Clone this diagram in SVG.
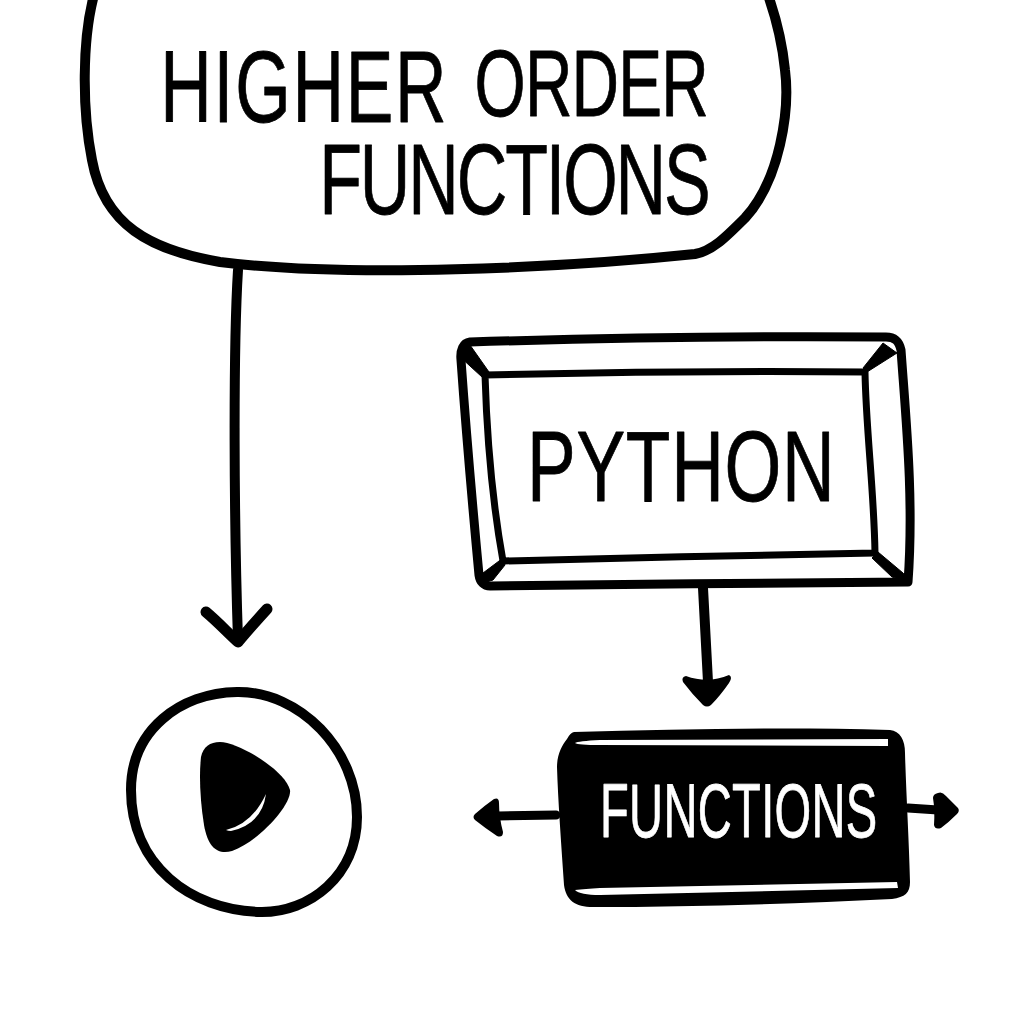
<svg xmlns="http://www.w3.org/2000/svg" width="1024" height="1024" viewBox="0 0 1024 1024">
<style>
.l{fill:none;stroke:#000;stroke-linecap:round;stroke-linejoin:round}
.t{font-family:"Liberation Sans",Arial,sans-serif;stroke-linejoin:round;stroke-linecap:round}
.k{fill:#000;stroke:#000;stroke-width:.8}
.w{fill:#fff;stroke:#fff;stroke-width:.8}
</style>
<rect width="1024" height="1024" fill="#fff"/>
<g id="connectors">
<path class="l" stroke-width="10" d="M238 270C233 350 234 520 238 640"/>
<path class="l" stroke-width="11" d="M206 612C218 622 228 633 238 642C247 631 257 620 267 609"/>
<path class="l" stroke-width="10" d="M703 588L708 682"/>
<path d="M686 676Q708 684 729 675Q733 677 729 683Q720 696 711 705Q707 708 703 705Q692 694 683 682Q681 677 686 676Z" fill="#000"/>
<path class="l" stroke-width="9" d="M556 815L498 816"/>
<path d="M494 799Q499 797 499 803Q499 817 503 832Q503 838 497 836Q485 828 475 820Q472 817 475 814Q484 806 494 799Z" fill="#000"/>
<path class="l" stroke-width="9" d="M908 808L938 810"/>
<path d="M938 793Q942 791 946 796Q953 803 958 808Q960 811 957 814Q949 822 941 828Q935 830 934 825Q935 810 933 798Q933 794 938 793Z" fill="#000"/>
</g>
<g id="node-higher-order">
<path class="l" stroke-width="10" d="M94 -5C82 40 82 110 92 160C104 225 150 250 220 262C350 278 560 268 695 254C712 251 725 238 745 218C780 180 790 110 785 70C782 40 775 15 768 -5"/>
<text class="t k" transform="scale(.7 1)"><tspan font-size="102" x="229" y="122" letter-spacing="2.5">HIGHER</tspan><tspan font-size="94" x="678" y="116" letter-spacing="-1.2">ORDER</tspan><tspan font-size="100" x="456" y="214" letter-spacing="-3">FUNCTIONS</tspan></text>
</g>
<g id="node-python">
<path class="l" stroke-width="9" d="M470 342C600 338 760 336 886 337C895 337 899 341 901 350C906 420 914 500 908 582C780 583 620 584 490 586C484 586 480 582 479 575C472 500 466 430 461 360C460 350 463 343 470 342Z"/>
<path class="l" stroke-width="7" d="M485 375C610 372 740 371 865 372C866 430 874 490 875 553C760 555 620 558 503 561C492 500 487 440 485 375Z"/>
<path d="M458 355L470 345L489 372L482 377ZM883 343L863 368L867 372L897 353ZM878 552L872 558L892 577L910 582L903 573ZM503 558L483 573L480 584L493 580L505 565Z" fill="#000" stroke="#000" stroke-width="1" stroke-linejoin="round"/>
<text class="t k" font-size="100" transform="translate(527 501) scale(.73 1)" letter-spacing="1">PYTHON</text>
</g>
<g id="node-play">
<path class="l" stroke-width="10" d="M237 692C300 691 357 750 357 817C357 875 310 913 260 912C190 910 131 865 131 790C131 730 180 693 237 692Z"/>
<path d="M220 742C238 742 285 770 290 790C292 805 258 842 232 851C218 855 208 848 204 825C200 800 199 775 201 757C203 747 210 742 220 742Z" fill="#000"/>
<path d="M226 830Q252 824 266 794Q262 824 231 831Q228 831 226 830Z" fill="#fff"/>
</g>
<g id="node-functions">
<path d="M574 732C680 729 790 727 890 730C900 731 905 740 905 753C906 790 909 840 910 882C910 893 905 897 892 899C790 904 690 907 593 907C575 907 566 900 564 885C561 840 558 800 557 767C557 755 562 745 567 739Q570 733 574 732Z" fill="#000"/>
<path d="M575 743Q578 741 600 740L888 739L888 746L600 745Q578 745 575 743ZM575 890Q580 895 600 895L898 888L897 882L600 888Q585 889 575 890Z" fill="#fff"/>
<text class="t w" font-size="76" transform="translate(600 837) scale(.62 1)" letter-spacing=".5">FUNCTIONS</text>
</g>
</svg>
